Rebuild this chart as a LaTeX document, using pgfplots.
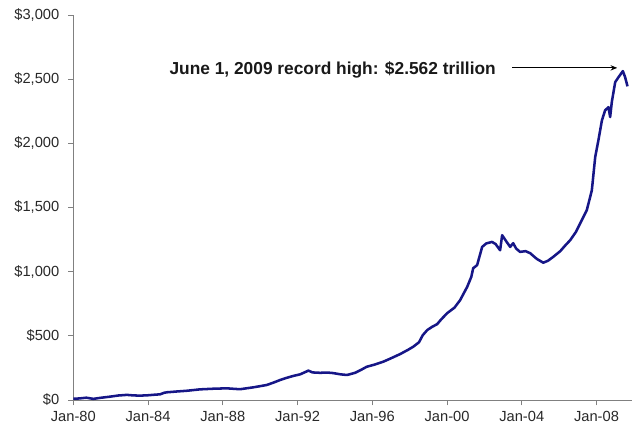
\documentclass[border=0pt]{standalone}
\usepackage{pgfplots}
\pgfplotsset{compat=1.18}
\usepackage{fontspec}
\setmainfont{Liberation Sans}
\usetikzlibrary{arrows.meta}
\definecolor{navyline}{RGB}{22,22,135}
\definecolor{axgray}{RGB}{128,128,128}
\definecolor{lblgray}{RGB}{40,40,40}
\begin{document}
\begin{tikzpicture}
\begin{axis}[
  at={(0,0)}, anchor=south west,
  scale only axis,
  width=419pt, height=288.75pt,
  xmin=1980, xmax=2009.9,
  ymin=0, ymax=3000,
  axis lines=left,
  axis line style={axgray, line width=0.7pt, -},
  xtick={1980,1984,1988,1992,1996,2000,2004,2008},
  xticklabels={Jan-80,Jan-84,Jan-88,Jan-92,Jan-96,Jan-00,Jan-04,Jan-08},
  ytick={0,500,1000,1500,2000,2500,3000},
  yticklabels={\$0,\$500,{\$1,000},{\$1,500},{\$2,000},{\$2,500},{\$3,000}},
  tick style={axgray, line width=0.7pt},
  tick align=outside,
  major tick length=4pt,
  ticklabel style={font=\fontsize{11}{13}\selectfont, text=lblgray},
  xticklabel style={yshift=-1pt},
  yticklabel style={xshift=-3pt},
  clip=false,
]
\addplot[navyline, line width=1.9pt, line join=round] coordinates {
(1980.0,10) (1980.3,12) (1980.7,18) (1981.07,9) (1981.5,18) (1981.96,26)
(1982.4,35) (1982.86,40) (1983.2,36) (1983.57,34) (1984.0,37) (1984.4,42) (1984.64,44)
(1984.85,56) (1985.0,60) (1985.5,66) (1986.07,72) (1986.78,83) (1987.5,88) (1988.21,91)
(1988.92,84) (1989.3,92) (1989.64,99) (1990.0,108) (1990.35,117) (1990.7,135)
(1991.07,156) (1991.4,172) (1991.78,188) (1992.14,200) (1992.58,229) (1992.8,215)
(1993.2,212) (1993.6,214) (1993.9,210) (1994.3,200) (1994.65,195) (1995.08,212)
(1995.4,235) (1995.7,259) (1996.1,275) (1996.58,298) (1997.0,325) (1997.49,358)
(1997.9,390) (1998.19,415) (1998.5,450) (1998.7,505) (1998.94,545) (1999.2,570)
(1999.47,591) (1999.7,630) (2000.01,677) (2000.4,720) (2000.7,778) (2001.08,882)
(2001.3,960) (2001.4,1027) (2001.61,1051) (2001.88,1193) (2002.1,1220) (2002.41,1232)
(2002.6,1215) (2002.84,1167) (2002.95,1284) (2003.2,1230) (2003.38,1193) (2003.54,1222)
(2003.7,1180) (2003.91,1154) (2004.2,1160) (2004.45,1144) (2004.8,1100) (2005.15,1070)
(2005.4,1085) (2005.68,1115) (2006.06,1160) (2006.3,1200) (2006.59,1245) (2006.9,1310)
(2007.12,1375) (2007.48,1479) (2007.75,1634) (2007.93,1893) (2008.1,2023) (2008.29,2179)
(2008.46,2257) (2008.64,2282) (2008.73,2205) (2008.82,2323) (2009.0,2477) (2009.18,2516)
(2009.41,2563) (2009.53,2516) (2009.66,2444)
};
\node[font=\bfseries\fontsize{13}{15}\selectfont, text=black!90] at (axis cs:1993.88,2572) {June 1, 2009 record high: \$2.562 trillion};
\draw[-{Stealth[length=5pt,width=4pt]}, line width=0.8pt] (axis cs:2003.49,2588) -- (axis cs:2009.11,2588);
\end{axis}
\pgfresetboundingbox
\path (-55pt,-22.5pt) rectangle (420.5pt,300pt);
\end{tikzpicture}
\end{document}
